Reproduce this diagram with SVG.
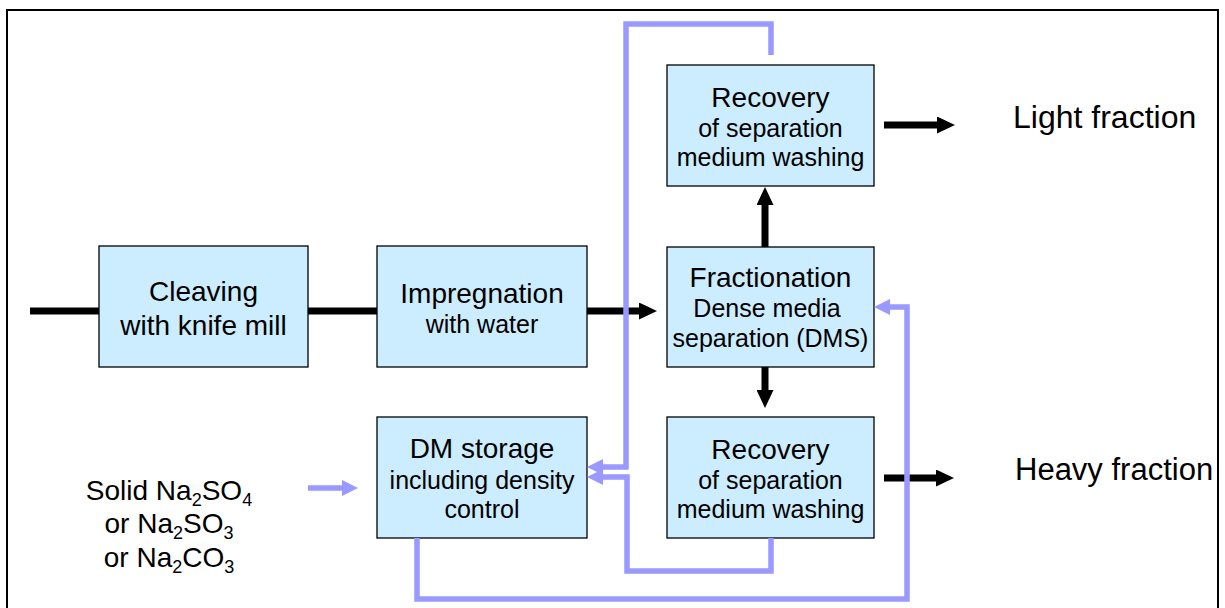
<svg xmlns="http://www.w3.org/2000/svg" width="1225" height="608" viewBox="0 0 1225 608">
<style>
.box{fill:#CCECFF;stroke:#000;stroke-width:1.3}
.t{font-family:"Liberation Sans",Arial,sans-serif;fill:#000;text-anchor:middle}
.big{font-size:28px}
.sm{font-size:25px}
.sub{font-size:18px}
.lbl{font-family:"Liberation Sans",Arial,sans-serif;font-size:32px;fill:#000}
.blk{stroke:#000;stroke-width:7;fill:none}
.blu{stroke:#9999FF;stroke-width:5.5;fill:none}
</style>
<defs>
<marker id="ab" markerUnits="userSpaceOnUse" markerWidth="18" markerHeight="17" refX="0" refY="8.5" orient="auto">
<path d="M0,0 L18,8.5 L0,17 z" fill="#000"/>
</marker>
<marker id="au" markerUnits="userSpaceOnUse" markerWidth="16" markerHeight="16" refX="0" refY="8" orient="auto">
<path d="M0,0 L16,8 L0,16 z" fill="#9999FF"/>
</marker>
</defs>
<rect x="7" y="10" width="1211" height="640" fill="#fff" stroke="#000" stroke-width="2"/>

<g id="cleaving">
<rect class="box" x="99" y="246" width="209" height="121"/>
<text class="t big" x="203.5" y="301">Cleaving</text>
<text class="t big" x="203.5" y="335">with knife mill</text>
</g>
<g id="impregnation">
<rect class="box" x="377" y="246" width="210" height="121"/>
<text class="t big" x="482" y="303">Impregnation</text>
<text class="t sm" x="482" y="333">with water</text>
</g>
<g id="fractionation">
<rect class="box" x="667" y="247" width="207" height="120"/>
<text class="t big" x="770.5" y="287">Fractionation</text>
<text class="t sm" x="767" y="317">Dense media</text>
<text class="t sm" x="770.5" y="347">separation (DMS)</text>
</g>
<g id="recovery-top">
<rect class="box" x="667" y="65" width="207" height="121"/>
<text class="t big" x="770.5" y="107">Recovery</text>
<text class="t sm" x="770.5" y="137">of separation</text>
<text class="t sm" x="770.5" y="166">medium washing</text>
</g>
<g id="recovery-bottom">
<rect class="box" x="667" y="417" width="207" height="121"/>
<text class="t big" x="770.5" y="459">Recovery</text>
<text class="t sm" x="770.5" y="489">of separation</text>
<text class="t sm" x="770.5" y="518">medium washing</text>
</g>
<g id="dm-storage">
<rect class="box" x="377" y="417" width="210" height="121"/>
<text class="t big" x="482" y="458">DM storage</text>
<text class="t sm" x="482" y="489">including density</text>
<text class="t sm" x="482" y="518">control</text>
</g>
<g id="solid-input">
<text class="t big" x="169" y="500">Solid Na<tspan class="sub" dy="6">2</tspan><tspan dy="-6">SO</tspan><tspan class="sub" dy="6">4</tspan></text>
<text class="t big" x="169" y="533">or Na<tspan class="sub" dy="6">2</tspan><tspan dy="-6">SO</tspan><tspan class="sub" dy="6">3</tspan></text>
<text class="t big" x="169" y="567">or Na<tspan class="sub" dy="6">2</tspan><tspan dy="-6">CO</tspan><tspan class="sub" dy="6">3</tspan></text>
</g>
<g id="light-fraction">
<text class="lbl" x="1013" y="128">Light fraction</text>
</g>
<g id="heavy-fraction">
<text class="lbl" x="1015" y="480" style="font-size:31px">Heavy fraction</text>
</g>

<g id="connectors">
<path class="blk" d="M30,311 H99"/>
<path class="blk" d="M308,311 H377"/>
<path class="blk" d="M587,311 H639" marker-end="url(#ab)"/>
<path class="blk" d="M765,247 V205" marker-end="url(#ab)"/>
<path class="blk" d="M765,367 V390" marker-end="url(#ab)"/>
<path class="blk" d="M884,125 H937" marker-end="url(#ab)"/>
<path class="blk" d="M884,478 H936" marker-end="url(#ab)"/>
<path class="blu" d="M771,55 V24 H626 V467 H603" marker-end="url(#au)"/>
<path class="blu" d="M771,538 V571 H627 V477 H603" marker-end="url(#au)"/>
<path class="blu" d="M417,538 V599 H907 V307 H890" marker-end="url(#au)"/>
<path class="blu" d="M308,488 H342" marker-end="url(#au)"/>
</g>
</svg>
